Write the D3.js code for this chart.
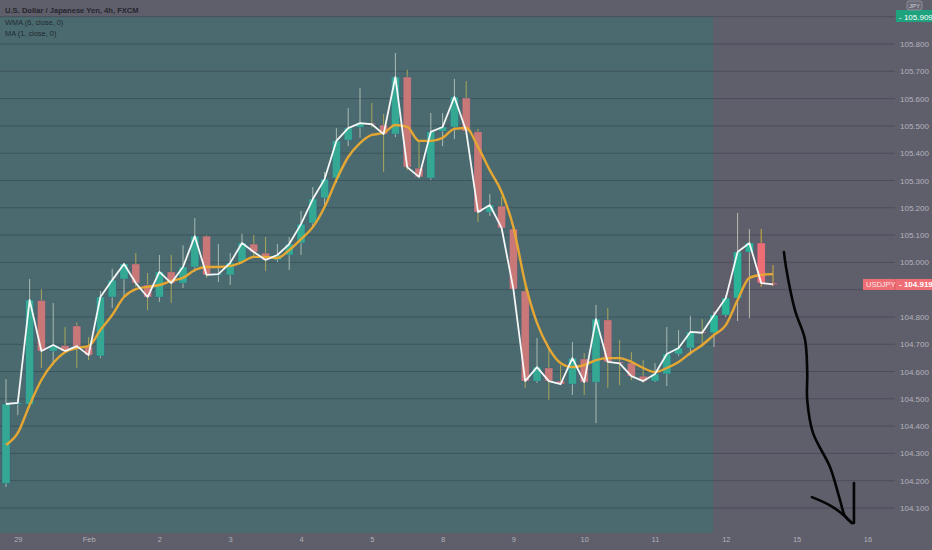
<!DOCTYPE html>
<html><head><meta charset="utf-8">
<script src="https://cdn.jsdelivr.net/npm/d3@7/dist/d3.min.js"></script>
<style>
html,body{margin:0;padding:0;background:#5f5f6c;}
svg{display:block;font-family:"Liberation Sans",Arial,sans-serif;}
</style></head>
<body><svg id="c" width="932" height="550"></svg>
<script>
// ---- data (4h candles, USDJPY FXCM) ----
const opens  = [104.19,104.48,104.48,104.86,104.675,104.695,104.767,104.69,104.657,104.873,104.939,104.994,104.917,104.873,104.965,104.924,104.983,105.096,104.954,104.954,105.001,105.067,105.034,105.009,105.027,105.071,105.144,105.236,105.309,105.448,105.495,105.51,105.503,105.47,105.679,105.345,105.309,105.481,105.496,105.602,105.478,105.184,105.206,105.122,104.895,104.565,104.613,104.565,104.554,104.646,104.561,104.789,104.635,104.631,104.583,104.565,104.591,104.664,104.686,104.745,104.742,104.807,104.869,105.038,105.071,104.924];
const highs  = [104.572,104.50,104.939,104.902,104.851,104.763,104.78,104.726,104.895,104.976,104.998,105.034,104.961,105.027,105.027,105.063,105.162,105.10,105.067,105.034,105.104,105.10,105.093,105.067,105.093,105.188,105.276,105.331,105.492,105.565,105.639,105.584,105.543,105.767,105.705,105.448,105.547,105.547,105.672,105.664,105.489,105.25,105.24,105.13,104.917,104.723,104.686,104.624,104.708,104.668,104.844,104.833,104.715,104.671,104.642,104.631,104.763,104.752,104.803,104.792,104.82,104.88,105.181,105.122,105.122,104.99];
const lows   = [104.177,104.44,104.466,104.613,104.624,104.668,104.613,104.642,104.649,104.833,104.873,104.91,104.825,104.855,104.851,104.906,104.965,104.943,104.928,104.917,104.998,105.02,104.968,105.001,104.972,105.027,105.129,105.203,105.291,105.426,105.456,105.495,105.331,105.459,105.338,105.309,105.302,105.426,105.452,105.467,105.148,105.17,105.118,104.899,104.54,104.558,104.496,104.55,104.514,104.514,104.411,104.54,104.55,104.569,104.558,104.561,104.547,104.657,104.66,104.69,104.69,104.80,104.785,104.796,104.91,104.913];
const closes = [104.481,104.485,104.862,104.675,104.697,104.675,104.693,104.66,104.873,104.935,104.994,104.924,104.873,104.965,104.924,104.983,105.096,104.954,104.957,104.998,105.071,105.038,105.009,105.027,105.067,105.14,105.232,105.305,105.445,105.492,105.51,105.506,105.47,105.679,105.349,105.313,105.478,105.496,105.606,105.481,105.184,105.21,105.126,104.902,104.565,104.616,104.565,104.554,104.649,104.561,104.792,104.635,104.63,104.583,104.565,104.591,104.664,104.686,104.745,104.742,104.807,104.869,105.038,105.071,104.924,104.919];
const wma6   = [104.331,104.375,104.477,104.569,104.631,104.671,104.686,104.693,104.752,104.807,104.873,104.902,104.910,104.917,104.932,104.943,104.972,104.983,104.983,104.987,105.001,105.02,105.02,105.016,105.045,105.085,105.129,105.203,105.302,105.386,105.437,105.467,105.474,105.503,105.496,105.445,105.445,105.456,105.489,105.492,105.423,105.338,105.258,105.129,104.924,104.778,104.686,104.631,104.616,104.624,104.642,104.649,104.649,104.635,104.613,104.598,104.613,104.635,104.668,104.697,104.734,104.770,104.862,104.943,104.954,104.957];
const dayIdx    = [1,7,13,19,25,31,37,43,49,55,61,67,73];
const dayLabels = ["29","Feb","2","3","4","5","8","9","10","11","12","15","16"];
const priceTicks = [104.1,104.2,104.3,104.4,104.5,104.6,104.7,104.8,104.9,105.0,105.1,105.2,105.3,105.4,105.5,105.6,105.7,105.8,105.9];
const labelTicks = [104.1,104.2,104.3,104.4,104.5,104.6,104.7,104.8,105.0,105.1,105.2,105.3,105.4,105.5,105.6,105.7,105.8];
const shadedUntil = 60;           // highlighted range ends at this bar
const lastPrice = 104.919;
const topPrice = "105.909";
const headerTitle = "U.S. Dollar / Japanese Yen, 4h, FXCM";
const legendItems = ["WMA (6, close, 0)","MA (1, close, 0)"];
// hand-drawn arrow (bar index, price)
const arrowPath  = [[65.93,105.038],[66.1,104.983],[66.86,104.825],[67.7,104.72],[67.9,104.6],[67.9,104.496],[68.39,104.375],[69.83,104.25],[70.68,104.129],[71.1,104.07],[71.69,104.045]];
const arrowHeadL = [[68.3,104.14],[69.9,104.108],[71.1,104.07],[71.69,104.045]];
const arrowHeadR = [[71.86,104.191],[71.86,104.045]];

// ---- scales ----
const W = 932, H = 550;
const x = d3.scaleLinear().domain([0, 73]).range([6, 6 + 11.8 * 73]);
const y = d3.scaleLinear().domain([104.1, 105.8]).range([508, 44]);
const svg = d3.select("#c");

svg.append("rect").attr("width", W).attr("height", H).attr("fill", "#5f5f6c");
// highlighted zone
svg.append("rect").attr("x", 0).attr("y", y(105.9)).attr("width", x(shadedUntil) - 1)
  .attr("height", 533 - y(105.9)).attr("fill", "#4b6a6f");

// grid
svg.append("g").selectAll("line").data(priceTicks).join("line")
  .attr("x1", 0).attr("x2", 895).attr("y1", d => y(d)).attr("y2", d => y(d))
  .attr("stroke", "rgb(30,40,52)").attr("stroke-opacity", 0.32).attr("stroke-width", 1);

// candles
const idx = d3.range(opens.length);
const inShade = i => i < shadedUntil;
const up = i => closes[i] >= opens[i];
const bodyCol = i => up(i) ? (inShade(i) ? "#35a893" : "#2bb597") : (inShade(i) ? "#c97878" : "#ef6e76");
const wickCol = i => up(i) ? (inShade(i) ? "#a8bab2" : "#b9b9ad") : (inShade(i) ? "#a9a55c" : "#d2ae3c");
const cg = svg.append("g");
cg.selectAll("line").data(idx).join("line")
  .attr("x1", i => x(i)).attr("x2", i => x(i))
  .attr("y1", i => y(highs[i])).attr("y2", i => y(lows[i]))
  .attr("stroke", wickCol).attr("stroke-width", 1);
cg.selectAll("rect").data(idx).join("rect")
  .attr("x", i => x(i) - 4).attr("width", 8)
  .attr("y", i => y(Math.max(opens[i], closes[i])))
  .attr("height", i => Math.max(1.2, Math.abs(y(opens[i]) - y(closes[i]))))
  .attr("fill", bodyCol).attr("stroke", "#2d4f86").attr("stroke-opacity", 0.45).attr("stroke-width", 0.6);

// WMA line
svg.append("path").datum(idx)
  .attr("d", d3.line().x(i => x(i)).y(i => y(wma6[i])).curve(d3.curveMonotoneX))
  .attr("fill", "none").attr("stroke", "#e5a733").attr("stroke-width", 2.4).attr("stroke-linejoin", "round");
// MA(1) line
svg.append("path").datum(idx)
  .attr("d", d3.line().x(i => x(i)).y(i => y(closes[i])))
  .attr("fill", "none").attr("stroke", "#f4f7f6").attr("stroke-width", 1.8).attr("stroke-linejoin", "round");

// y axis labels
const yAxis = d3.axisRight(y).tickValues(labelTicks).tickSize(0).tickPadding(0).tickFormat(d3.format(".3f"));
const ya = svg.append("g").attr("transform", "translate(900,0)").call(yAxis);
ya.select(".domain").remove();
ya.selectAll("text").attr("fill", "#b3b3bb").attr("font-size", 8).attr("font-family", "Liberation Sans, Arial, sans-serif");

// x axis labels
const xAxis = d3.axisBottom(x).tickValues(dayIdx).tickSize(0).tickPadding(0).tickFormat((d, k) => dayLabels[k]);
const xa = svg.append("g").attr("transform", "translate(0,537)").call(xAxis);
xa.select(".domain").remove();
xa.selectAll("text").attr("fill", "#b0b0b8").attr("font-size", 7.5).attr("font-family", "Liberation Sans, Arial, sans-serif");

// arrow annotation
const ln = d3.line().x(d => x(d[0])).y(d => y(d[1])).curve(d3.curveCatmullRom);
[arrowPath, arrowHeadL, arrowHeadR].forEach(p => {
  svg.append("path").attr("d", ln(p)).attr("fill", "none").attr("stroke", "#050505")
    .attr("stroke-width", 2.6).attr("stroke-linecap", "round").attr("stroke-linejoin", "round");
});

// last price label
const ly = y(lastPrice);
svg.append("rect").attr("x", 863).attr("y", ly - 5.5).attr("width", 69).attr("height", 11).attr("fill", "#ef6e76");
svg.append("line").attr("x1", 895).attr("x2", 895).attr("y1", ly - 5.5).attr("y2", ly + 5.5).attr("stroke", "#d85a62");
svg.append("text").attr("x", 866).attr("y", ly + 3).attr("font-size", 7.5).attr("fill", "#fbe3e4").text("USDJPY");
svg.append("text").attr("x", 899).attr("y", ly + 3).attr("font-size", 8).attr("font-weight", "bold").attr("fill", "#ffffff").text("- " + d3.format(".3f")(lastPrice));

// top-right label + currency box
svg.append("rect").attr("x", 896).attr("y", 10).attr("width", 36).attr("height", 12).attr("fill", "#1fa37e");
svg.append("text").attr("x", 899).attr("y", 19.5).attr("font-size", 8).attr("fill", "#ffffff").text("- " + topPrice);
svg.append("rect").attr("x", 907).attr("y", 1).attr("width", 15).attr("height", 9).attr("rx", 2)
  .attr("fill", "#6a6a76").attr("stroke", "#9a9aa4").attr("stroke-width", 0.8);
svg.append("text").attr("x", 914.5).attr("y", 8).attr("text-anchor", "middle").attr("font-size", 6).attr("fill", "#cfcfd6").text("JPY");

// legend
svg.append("text").attr("x", 5).attr("y", 13).attr("font-size", 7.6).attr("font-weight", "bold").attr("fill", "#26262e").text(headerTitle);
svg.selectAll("text.leg").data(legendItems).join("text").attr("class", "leg")
  .attr("x", 5).attr("y", (d, k) => 25 + k * 11).attr("font-size", 7.4).attr("fill", "#1e2a30").text(d => d);
</script></body></html>
